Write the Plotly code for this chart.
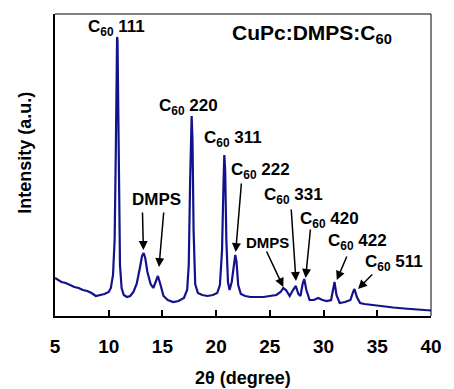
import plotly.graph_objects as go

two_theta = [5.0,5.3,5.6,6.0,6.4,6.8,7.2,7.6,8.0,8.4,8.8,9.2,9.6,10.0,10.2,10.4,10.55,10.65,10.72,10.78,10.82,10.88,10.95,11.05,11.2,11.4,11.7,12.0,12.3,12.6,12.9,13.1,13.25,13.4,13.6,13.9,14.15,14.4,14.58,14.8,15.1,15.5,16.0,16.5,17.0,17.3,17.45,17.58,17.66,17.72,17.8,17.9,18.05,18.3,18.7,19.2,19.7,20.1,20.35,20.55,20.68,20.76,20.84,20.95,21.1,21.25,21.45,21.65,21.78,21.9,22.05,22.3,22.7,23.2,23.8,24.4,25.0,25.6,26.0,26.25,26.5,26.85,27.15,27.42,27.65,27.85,28.05,28.2,28.4,28.7,29.1,29.5,29.9,30.3,30.7,30.9,31.02,31.2,31.5,32.0,32.5,32.75,32.88,33.1,33.4,33.8,34.5,35.5,36.5,37.5,38.5,39.3,40.0]
intensity = [380,360,340,330,310,290,280,260,250,230,200,210,220,240,280,410,760,1560,2210,2790,2760,2160,1160,510,280,210,190,200,240,320,480,600,630,580,440,320,280,360,400,320,200,160,140,150,180,260,510,1360,1910,2000,1760,860,320,230,210,200,210,230,310,660,1310,1610,1460,760,340,260,340,540,610,540,310,220,200,190,190,190,200,210,240,280,260,200,260,300,220,200,320,370,260,160,160,180,160,150,160,280,340,210,130,140,160,240,270,190,130,120,110,95,85,75,70,60,55]

x_ticks = [5, 10, 15, 20, 25, 30, 35, 40]

# peak labels
label_text = ["C<sub>60</sub> 111", "C<sub>60</sub> 220", "C<sub>60</sub> 311", "C<sub>60</sub> 222",
              "C<sub>60</sub> 331", "C<sub>60</sub> 420", "C<sub>60</sub> 422", "C<sub>60</sub> 511",
              "DMPS", "DMPS"]
label_x = [10.70, 17.39, 21.55, 24.17, 27.16, 30.59, 33.13, 36.56, 14.41, 24.81]
label_y = [2880, 2090, 1770, 1450, 1200, 960, 740, 530, 1170, 740]
label_size = [17, 17, 17, 17, 17, 17, 17, 17, 17, 15]

# arrows: head (x,y) and tail (x,y)
arrow_head_x = [13.23, 14.68, 21.82, 26.25, 27.43, 28.33, 31.23, 33.21]
arrow_head_y = [660, 490, 640, 290, 350, 380, 360, 270]
arrow_tail_x = [13.14, 15.13, 22.36, 24.63, 26.98, 28.79, 32.22, 34.66]
arrow_tail_y = [1050, 1050, 1340, 660, 1080, 880, 610, 430]

FONT = "Arial, Liberation Sans, sans-serif"

fig = go.Figure()
fig.add_trace(go.Scatter(x=two_theta, y=intensity, mode="lines",
                         line=dict(color="#12128c", width=2.2), showlegend=False))

ann = []
for t, x, y, s in zip(label_text, label_x, label_y, label_size):
    ann.append(dict(x=x, y=y, xref="x", yref="y", text=t, showarrow=False,
                    font=dict(family=FONT, size=s, color="black", weight="bold"),
                    xanchor="center", yanchor="middle"))
for hx, hy, tx, ty in zip(arrow_head_x, arrow_head_y, arrow_tail_x, arrow_tail_y):
    ann.append(dict(x=hx, y=hy, xref="x", yref="y", ax=tx, ay=ty, axref="x", ayref="y",
                    text="", showarrow=True, arrowhead=2, arrowsize=1.2, arrowwidth=1.5,
                    arrowcolor="black", standoff=0, startstandoff=0))
ann.append(dict(x=28.88, y=2820, xref="x", yref="y", text="CuPc:DMPS:C<sub>60</sub>", showarrow=False,
                font=dict(family=FONT, size=21, color="black", weight="bold"),
                xanchor="center", yanchor="middle"))
ann.append(dict(x=0.5, y=-0.205, xref="paper", yref="paper", text="2θ (degree)", showarrow=False,
                font=dict(family=FONT, size=18, color="black", weight="bold"),
                xanchor="center", yanchor="middle"))
ann.append(dict(x=-0.080, y=0.54, xref="paper", yref="paper", text="Intensity (a.u.)", showarrow=False,
                textangle=-90,
                font=dict(family=FONT, size=18, color="black", weight="bold"),
                xanchor="center", yanchor="middle"))

fig.update_layout(
    width=454, height=389,
    margin=dict(l=55, r=12, t=14, b=73),
    paper_bgcolor="white", plot_bgcolor="white",
    annotations=ann,
    shapes=[
        dict(type="line", xref="paper", yref="paper", x0=0, x1=1, y0=1, y1=1,
             line=dict(color="black", width=1)),
        dict(type="line", xref="paper", yref="paper", x0=1, x1=1, y0=0, y1=1,
             line=dict(color="black", width=1)),
    ],
)
fig.update_xaxes(range=[5, 40], tickvals=x_ticks, ticktext=[str(v) for v in x_ticks],
                 ticks="inside", ticklen=6, tickwidth=2, tickcolor="black",
                 showline=True, linewidth=2, linecolor="black", showgrid=False, zeroline=False,
                 tickfont=dict(family=FONT, size=19, color="black", weight="bold"),
                 ticklabelstandoff=12)
fig.update_yaxes(range=[0, 3020], showticklabels=False, ticks="",
                 showline=True, linewidth=2, linecolor="black", showgrid=False, zeroline=False)

fig.write_html("out.html")
